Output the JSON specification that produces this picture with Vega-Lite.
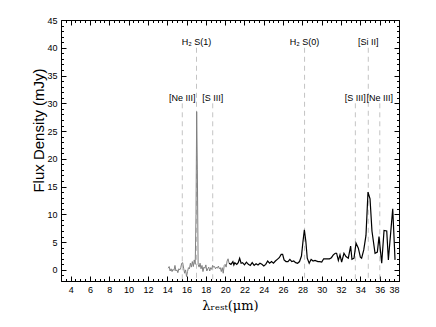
{
  "$schema": "https://vega.github.io/schema/vega-lite/v6.json",
  "autosize": {"type": "none"},
  "width": 338,
  "height": 261,
  "padding": {"left": 61, "top": 20, "right": 37, "bottom": 46},
  "background": "white",
  "config": {
    "view": {"stroke": "black", "strokeWidth": 1},
    "font": "Liberation Sans"
  },
  "datasets": {
    "spec": [
      {"wl": 14.1, "f": 0.3, "seg": "g"}, {"wl": 14.2, "f": 0.6, "seg": "g"}, {"wl": 14.3, "f": -0.2, "seg": "g"},
      {"wl": 14.4, "f": 0.2, "seg": "g"}, {"wl": 14.5, "f": -0.3, "seg": "g"}, {"wl": 14.6, "f": 0.1, "seg": "g"},
      {"wl": 14.7, "f": -0.1, "seg": "g"}, {"wl": 14.8, "f": 0.8, "seg": "g"}, {"wl": 14.9, "f": -0.2, "seg": "g"},
      {"wl": 15.0, "f": 0.0, "seg": "g"}, {"wl": 15.1, "f": -0.5, "seg": "g"}, {"wl": 15.2, "f": 0.2, "seg": "g"},
      {"wl": 15.3, "f": 0.0, "seg": "g"}, {"wl": 15.4, "f": 0.4, "seg": "g"}, {"wl": 15.5, "f": 1.2, "seg": "g"},
      {"wl": 15.6, "f": 1.3, "seg": "g"}, {"wl": 15.7, "f": 0.3, "seg": "g"}, {"wl": 15.8, "f": -0.6, "seg": "g"},
      {"wl": 15.9, "f": 0.0, "seg": "g"}, {"wl": 16.0, "f": -1.2, "seg": "g"}, {"wl": 16.1, "f": -0.3, "seg": "g"},
      {"wl": 16.2, "f": 0.4, "seg": "g"}, {"wl": 16.3, "f": 0.2, "seg": "g"}, {"wl": 16.4, "f": 1.2, "seg": "g"},
      {"wl": 16.5, "f": 0.5, "seg": "g"}, {"wl": 16.6, "f": 1.5, "seg": "g"}, {"wl": 16.7, "f": 0.6, "seg": "g"},
      {"wl": 16.8, "f": 1.8, "seg": "g"}, {"wl": 16.9, "f": 1.0, "seg": "g"}, {"wl": 16.98, "f": 10.0, "seg": "g"},
      {"wl": 17.05, "f": 28.5, "seg": "g"}, {"wl": 17.12, "f": 18.0, "seg": "g"}, {"wl": 17.2, "f": 1.0, "seg": "g"},
      {"wl": 17.3, "f": 0.5, "seg": "g"}, {"wl": 17.4, "f": 1.2, "seg": "g"}, {"wl": 17.5, "f": 0.2, "seg": "g"},
      {"wl": 17.6, "f": 0.8, "seg": "g"}, {"wl": 17.7, "f": -0.3, "seg": "g"}, {"wl": 17.8, "f": 0.5, "seg": "g"},
      {"wl": 17.9, "f": 0.3, "seg": "g"}, {"wl": 18.0, "f": 0.9, "seg": "g"}, {"wl": 18.1, "f": -0.2, "seg": "g"},
      {"wl": 18.2, "f": 0.2, "seg": "g"}, {"wl": 18.3, "f": 0.5, "seg": "g"}, {"wl": 18.4, "f": -0.2, "seg": "g"},
      {"wl": 18.5, "f": 0.4, "seg": "g"}, {"wl": 18.6, "f": 0.1, "seg": "g"}, {"wl": 18.7, "f": 0.8, "seg": "g"},
      {"wl": 18.8, "f": 0.5, "seg": "g"}, {"wl": 18.9, "f": 0.6, "seg": "g"}, {"wl": 19.0, "f": 0.2, "seg": "g"},
      {"wl": 19.1, "f": 0.5, "seg": "g"}, {"wl": 19.2, "f": 0.3, "seg": "g"}, {"wl": 19.3, "f": 0.7, "seg": "g"},
      {"wl": 19.4, "f": 0.2, "seg": "g"}, {"wl": 19.5, "f": 0.4, "seg": "g"}, {"wl": 19.6, "f": -0.3, "seg": "g"},
      {"wl": 19.7, "f": 0.4, "seg": "g"}, {"wl": 19.8, "f": -0.6, "seg": "g"}, {"wl": 19.9, "f": 0.8, "seg": "g"},
      {"wl": 20.0, "f": 1.0, "seg": "g"}, {"wl": 20.1, "f": 0.5, "seg": "g"}, {"wl": 20.2, "f": 1.6, "seg": "g"},
      {"wl": 20.3, "f": 2.0, "seg": "g"}, {"wl": 20.4, "f": 1.2, "seg": "g"},
      {"wl": 20.4, "f": 1.2, "seg": "b"}, {"wl": 20.6, "f": 1.0, "seg": "b"}, {"wl": 20.8, "f": 1.5, "seg": "b"},
      {"wl": 20.9, "f": 0.9, "seg": "b"}, {"wl": 21.0, "f": 1.3, "seg": "b"}, {"wl": 21.2, "f": 1.0, "seg": "b"},
      {"wl": 21.35, "f": 1.3, "seg": "b"}, {"wl": 21.5, "f": 2.1, "seg": "b"}, {"wl": 21.65, "f": 1.2, "seg": "b"},
      {"wl": 21.8, "f": 1.3, "seg": "b"}, {"wl": 22.0, "f": 0.9, "seg": "b"}, {"wl": 22.2, "f": 1.4, "seg": "b"},
      {"wl": 22.4, "f": 1.0, "seg": "b"}, {"wl": 22.6, "f": 0.8, "seg": "b"}, {"wl": 22.8, "f": 1.3, "seg": "b"},
      {"wl": 23.0, "f": 0.8, "seg": "b"}, {"wl": 23.2, "f": 1.1, "seg": "b"}, {"wl": 23.4, "f": 0.9, "seg": "b"},
      {"wl": 23.6, "f": 1.2, "seg": "b"}, {"wl": 23.8, "f": 1.0, "seg": "b"}, {"wl": 24.0, "f": 0.7, "seg": "b"},
      {"wl": 24.2, "f": 1.0, "seg": "b"}, {"wl": 24.4, "f": 1.6, "seg": "b"}, {"wl": 24.6, "f": 1.2, "seg": "b"},
      {"wl": 24.8, "f": 1.5, "seg": "b"}, {"wl": 25.0, "f": 1.2, "seg": "b"}, {"wl": 25.2, "f": 1.6, "seg": "b"},
      {"wl": 25.4, "f": 1.9, "seg": "b"}, {"wl": 25.6, "f": 2.2, "seg": "b"}, {"wl": 25.8, "f": 2.8, "seg": "b"},
      {"wl": 25.95, "f": 2.8, "seg": "b"}, {"wl": 26.1, "f": 1.8, "seg": "b"}, {"wl": 26.3, "f": 1.5, "seg": "b"},
      {"wl": 26.5, "f": 1.5, "seg": "b"}, {"wl": 26.7, "f": 1.9, "seg": "b"}, {"wl": 26.9, "f": 1.5, "seg": "b"},
      {"wl": 27.1, "f": 1.6, "seg": "b"}, {"wl": 27.3, "f": 1.3, "seg": "b"}, {"wl": 27.5, "f": 1.2, "seg": "b"},
      {"wl": 27.7, "f": 1.5, "seg": "b"}, {"wl": 27.9, "f": 2.5, "seg": "b"}, {"wl": 28.05, "f": 5.0, "seg": "b"},
      {"wl": 28.2, "f": 7.2, "seg": "b"}, {"wl": 28.35, "f": 5.2, "seg": "b"}, {"wl": 28.5, "f": 2.1, "seg": "b"},
      {"wl": 28.7, "f": 1.2, "seg": "b"}, {"wl": 28.9, "f": 1.9, "seg": "b"}, {"wl": 29.1, "f": 1.6, "seg": "b"},
      {"wl": 29.3, "f": 1.7, "seg": "b"}, {"wl": 29.6, "f": 1.5, "seg": "b"}, {"wl": 29.8, "f": 1.5, "seg": "b"},
      {"wl": 30.0, "f": 1.4, "seg": "b"}, {"wl": 30.2, "f": 2.0, "seg": "b"}, {"wl": 30.5, "f": 2.0, "seg": "b"},
      {"wl": 30.8, "f": 2.0, "seg": "b"}, {"wl": 31.0, "f": 2.2, "seg": "b"}, {"wl": 31.2, "f": 2.7, "seg": "b"},
      {"wl": 31.4, "f": 3.0, "seg": "b"}, {"wl": 31.54, "f": 3.0, "seg": "b"}, {"wl": 31.72, "f": 1.7, "seg": "b"},
      {"wl": 31.89, "f": 2.7, "seg": "b"}, {"wl": 32.06, "f": 1.4, "seg": "b"}, {"wl": 32.3, "f": 3.0, "seg": "b"},
      {"wl": 32.51, "f": 2.4, "seg": "b"}, {"wl": 32.75, "f": 2.1, "seg": "b"}, {"wl": 32.99, "f": 4.3, "seg": "b"},
      {"wl": 33.13, "f": 1.9, "seg": "b"}, {"wl": 33.34, "f": 2.1, "seg": "b"}, {"wl": 33.55, "f": 4.8, "seg": "b"},
      {"wl": 33.79, "f": 3.9, "seg": "b"}, {"wl": 34.0, "f": 2.3, "seg": "b"}, {"wl": 34.13, "f": 2.1, "seg": "b"},
      {"wl": 34.35, "f": 3.6, "seg": "b"}, {"wl": 34.58, "f": 6.2, "seg": "b"}, {"wl": 34.79, "f": 14.0, "seg": "b"},
      {"wl": 35.0, "f": 12.8, "seg": "b"}, {"wl": 35.2, "f": 7.0, "seg": "b"}, {"wl": 35.52, "f": 3.0, "seg": "b"},
      {"wl": 35.76, "f": 3.2, "seg": "b"}, {"wl": 35.93, "f": 6.0, "seg": "b"}, {"wl": 36.21, "f": 1.2, "seg": "b"},
      {"wl": 36.45, "f": 7.1, "seg": "b"}, {"wl": 36.73, "f": 7.0, "seg": "b"}, {"wl": 36.9, "f": 1.8, "seg": "b"},
      {"wl": 37.35, "f": 11.0, "seg": "b"}, {"wl": 37.59, "f": 1.8, "seg": "b"}
    ],
    "lines": [
      {"name": "[Ne III]", "wl": 15.56, "top": 30, "ly": 30.9},
      {"name": "H₂ S(1)", "wl": 17.03, "top": 40, "ly": 41},
      {"name": "[S III]", "wl": 18.71, "top": 30, "ly": 30.9},
      {"name": "H₂ S(0)", "wl": 28.22, "top": 40, "ly": 41},
      {"name": "[S III]", "wl": 33.48, "top": 30, "ly": 30.9},
      {"name": "[Si II]", "wl": 34.82, "top": 40, "ly": 41},
      {"name": "[Ne III]", "wl": 36.01, "top": 30, "ly": 30.9}
    ]
  },
  "resolve": {"axis": {"x": "independent", "y": "independent"}},
  "layer": [
    {
      "data": {"name": "lines"},
      "mark": {"type": "rule", "color": "#c4c4c4", "strokeWidth": 1, "strokeDash": [5, 4]},
      "encoding": {
        "x": {"field": "wl", "type": "quantitative", "scale": {"domain": [3, 38], "nice": false, "zero": false},
          "axis": {"orient": "top", "labels": false, "domain": false, "grid": false, "title": null,
            "values": [3,3.5,4,4.5,5,5.5,6,6.5,7,7.5,8,8.5,9,9.5,10,10.5,11,11.5,12,12.5,13,13.5,14,14.5,15,15.5,16,16.5,17,17.5,18,18.5,19,19.5,20,20.5,21,21.5,22,22.5,23,23.5,24,24.5,25,25.5,26,26.5,27,27.5,28,28.5,29,29.5,30,30.5,31,31.5,32,32.5,33,33.5,34,34.5,35,35.5,36,36.5,37,37.5,38],
            "tickColor": "black", "tickWidth": 1,
            "tickSize": {"condition": {"test": "datum.value % 2 === 0", "value": -5}, "value": -2.5}}},
        "y": {"field": "top", "type": "quantitative", "scale": {"domain": [-2, 45], "nice": false, "zero": false}, "axis": null},
        "y2": {"datum": -2}
      }
    },
    {
      "data": {"name": "spec"},
      "mark": {"type": "line", "interpolate": "linear"},
      "encoding": {
        "x": {"field": "wl", "type": "quantitative", "scale": {"domain": [3, 38], "nice": false, "zero": false},
          "axis": {"orient": "bottom", "title": "λᵣₑₛₜ(μm)", "titleFont": "DejaVu Serif", "titleFontSize": 13, "titleFontWeight": "normal", "titleColor": "black", "titlePadding": 5,
            "values": [4,6,8,10,12,14,16,18,20,22,24,26,28,30,32,34,36,38],
            "ticks": false, "domain": false, "grid": false, "labelFontSize": 9, "labelColor": "black", "labelPadding": 4, "labelFont": "Liberation Sans"}},
        "y": {"field": "f", "type": "quantitative", "scale": {"domain": [-2, 45], "nice": false, "zero": false},
          "axis": {"orient": "left", "title": "Flux Density (mJy)", "titleFont": "Liberation Sans", "titleFontSize": 15, "titleFontWeight": "normal", "titleColor": "black",
            "titleX": -23, "titleY": 110, "titleAngle": -90, "titleAlign": "center", "titleBaseline": "middle",
            "values": [0,5,10,15,20,25,30,35,40,45],
            "ticks": false, "domain": false, "grid": false, "labelFontSize": 9, "labelColor": "black", "labelPadding": 4, "labelFont": "Liberation Sans"}},
        "color": {"field": "seg", "type": "nominal", "scale": {"domain": ["g", "b"], "range": ["#808080", "#000000"]}, "legend": null},
        "strokeWidth": {"field": "seg", "type": "nominal", "scale": {"domain": ["g", "b"], "range": [1, 1.2]}, "legend": null}
      }
    },
    {
      "data": {"name": "lines"},
      "mark": {"type": "text", "fontSize": 9, "font": "Liberation Sans", "color": "black", "align": "center", "baseline": "middle"},
      "encoding": {
        "x": {"field": "wl", "type": "quantitative", "scale": {"domain": [3, 38], "nice": false, "zero": false}, "axis": null},
        "y": {"field": "ly", "type": "quantitative", "scale": {"domain": [-2, 45], "nice": false, "zero": false},
          "axis": {"orient": "right", "labels": false, "domain": false, "grid": false, "title": null,
            "values": [-2,-1,0,1,2,3,4,5,6,7,8,9,10,11,12,13,14,15,16,17,18,19,20,21,22,23,24,25,26,27,28,29,30,31,32,33,34,35,36,37,38,39,40,41,42,43,44,45],
            "tickColor": "black", "tickWidth": 1,
            "tickSize": {"condition": {"test": "datum.value % 5 === 0", "value": -5}, "value": -2.5}}},
        "text": {"field": "name"}
      }
    },
    {
      "data": {"name": "lines"},
      "mark": {"type": "point", "opacity": 0},
      "encoding": {
        "x": {"field": "wl", "type": "quantitative", "scale": {"domain": [3, 38], "nice": false, "zero": false},
          "axis": {"orient": "bottom", "labels": false, "domain": false, "grid": false, "title": null,
            "values": [3,3.5,4,4.5,5,5.5,6,6.5,7,7.5,8,8.5,9,9.5,10,10.5,11,11.5,12,12.5,13,13.5,14,14.5,15,15.5,16,16.5,17,17.5,18,18.5,19,19.5,20,20.5,21,21.5,22,22.5,23,23.5,24,24.5,25,25.5,26,26.5,27,27.5,28,28.5,29,29.5,30,30.5,31,31.5,32,32.5,33,33.5,34,34.5,35,35.5,36,36.5,37,37.5,38],
            "tickColor": "black", "tickWidth": 1,
            "tickSize": {"condition": {"test": "datum.value % 2 === 0", "value": -5}, "value": -2.5}}},
        "y": {"field": "ly", "type": "quantitative", "scale": {"domain": [-2, 45], "nice": false, "zero": false},
          "axis": {"orient": "left", "labels": false, "domain": false, "grid": false, "title": null,
            "values": [-2,-1,0,1,2,3,4,5,6,7,8,9,10,11,12,13,14,15,16,17,18,19,20,21,22,23,24,25,26,27,28,29,30,31,32,33,34,35,36,37,38,39,40,41,42,43,44,45],
            "tickColor": "black", "tickWidth": 1,
            "tickSize": {"condition": {"test": "datum.value % 5 === 0", "value": -5}, "value": -2.5}}}
      }
    }
  ]
}
